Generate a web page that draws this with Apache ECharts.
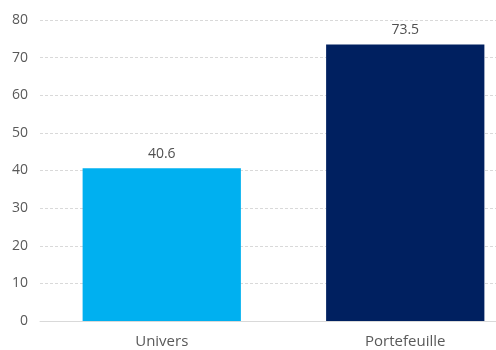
<!DOCTYPE html>
<html><head><meta charset="utf-8">
<script src="https://cdn.jsdelivr.net/npm/echarts@6/dist/echarts.min.js"></script>
<style>html,body{margin:0;padding:0;background:#fff;overflow:hidden;width:496px;height:350px}#c{width:530px;height:350px}</style>
</head><body><div id="c"></div>
<script>
const categories = ['Univers', 'Portefeuille'];
const values = [40.6, 73.5];
const colors = ['#00B0F0', '#002060'];
const chart = echarts.init(document.getElementById('c'));
chart.setOption({
  animation: false,
  textStyle: {fontFamily: 'Open Sans'},
  grid: {left: 40, top: 20, width: 487, height: 301, containLabel: false},
  xAxis: {
    type: 'category', data: categories,
    axisLine: {lineStyle: {color: '#d9d9d9', width: 1}},
    axisTick: {show: false},
    axisLabel: {color: '#595959', fontSize: 15, margin: 13}
  },
  yAxis: {
    type: 'value', min: 0, max: 80, interval: 10,
    axisLine: {show: false}, axisTick: {show: false},
    splitLine: {lineStyle: {color: '#d9d9d9', type: [3, 2]}},
    axisLabel: {color: '#595959', fontSize: 14, margin: 12}
  },
  series: [{
    type: 'bar', barCategoryGap: '35%',
    data: values.map((v, i) => ({value: v, itemStyle: {color: colors[i]}})),
    label: {show: true, position: 'top', color: '#505050', fontSize: 14, distance: 7}
  }]
});
</script></body></html>
